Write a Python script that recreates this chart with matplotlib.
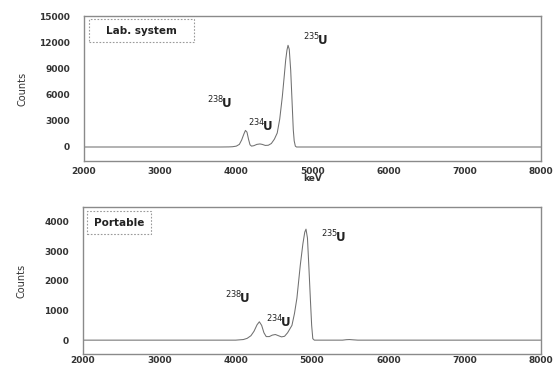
import matplotlib
matplotlib.use('Agg')
import matplotlib.pyplot as plt
from matplotlib.patches import Rectangle

# Lab. system spectrum (keV, counts)
lab_kev = [2000, 3800, 3900, 3950, 4000, 4040, 4070, 4100, 4120, 4140, 4160, 4180, 4200,
           4230, 4270, 4310, 4340, 4380, 4420, 4460, 4500, 4537, 4570, 4604, 4630, 4648,
           4665, 4679, 4695, 4714, 4730, 4748, 4760, 4775, 4790, 8000]
lab_cnt = [0, 0, 10, 30, 100, 300, 800, 1500, 1900, 1700, 900, 250, 100,
           150, 300, 350, 300, 180, 200, 400, 900, 1600, 3200, 5770, 8200, 9950,
           11100, 11650, 11200, 8800, 5600, 1970, 700, 100, 0, 0]

# Portable spectrum (keV, counts)
port_kev = [2000, 4000, 4100, 4150, 4200, 4240, 4280, 4310, 4340, 4370, 4400, 4440,
            4480, 4520, 4560, 4600, 4640, 4680, 4737, 4770, 4802, 4846, 4880, 4905,
            4921, 4940, 4960, 4978, 4995, 5010, 5030, 5400, 5450, 5490, 5540, 5600, 8000]
port_cnt = [0, 0, 20, 60, 150, 300, 520, 620, 500, 250, 120, 120,
            170, 190, 150, 110, 130, 250, 500, 900, 1420, 2530, 3250, 3650,
            3750, 3450, 2400, 1400, 500, 50, 0, 0, 15, 20, 10, 0, 0]

xticks = [2000, 3000, 4000, 5000, 6000, 7000, 8000]
lab_yticks = [0, 3000, 6000, 9000, 12000, 15000]
port_yticks = [0, 1000, 2000, 3000, 4000]

lab_labels = [(3779, 5050, '238'), (4312, 2350, '234'), (5043, 12240, '235')]
port_labels = [(4025, 1410, '238'), (4563, 600, '234'), (5280, 3490, '235')]

fig = plt.figure(figsize=(5.58, 3.65), dpi=100)
ax1 = fig.add_axes([0.1505, 0.559, 0.819, 0.397])
ax2 = fig.add_axes([0.1487, 0.030, 0.821, 0.403])

tick_font = dict(family='DejaVu Sans', weight='bold', size=6.5)

def style(ax, yticks, ylim, xpad):
    ax.set_xlim(2000, 8000)
    ax.set_ylim(*ylim)
    ax.set_xticks(xticks)
    ax.set_yticks(yticks)
    ax.set_xticklabels([str(v) for v in xticks], **tick_font, color='#333333')
    ax.set_yticklabels([str(v) for v in yticks], **tick_font, color='#333333')
    ax.tick_params(length=0)
    ax.tick_params(axis='y', pad=10)
    ax.tick_params(axis='x', pad=xpad)
    for s in ax.spines.values():
        s.set_color('#8a8a8a')
        s.set_linewidth(1.0)
    ax.set_ylabel('Counts', family=['Liberation Sans Narrow', 'DejaVu Sans'],
                  size=7, color='#333333')
    ax.yaxis.set_label_coords(-0.123, 0.5)

ax1.plot(lab_kev, lab_cnt, color='#707070', lw=0.75)
style(ax1, lab_yticks, (-1600, 15000), 4)
ax1.set_xlabel('keV', **tick_font, color='#333333', labelpad=-1)

ax2.plot(port_kev, port_cnt, color='#707070', lw=0.75)
style(ax2, port_yticks, (-470, 4500), 1.5)

for ax, labels in [(ax1, lab_labels), (ax2, port_labels)]:
    for x, y, iso in labels:
        ax.text(x, y, r'$^{%s}\!\mathbf{U}$' % iso, ha='center', va='center',
                size=8.5, color='#222222')

ax1.add_patch(Rectangle((0.011, 0.821), 0.23, 0.158, transform=ax1.transAxes,
                        fill=False, ec='#9a9a9a', lw=0.8, ls=(0, (1.5, 1.5))))
ax1.text(0.126, 0.90, 'Lab. system', transform=ax1.transAxes, ha='center',
         va='center', family='DejaVu Sans', weight='bold', size=7.5, color='#222222')

ax2.add_patch(Rectangle((0.009, 0.816), 0.139, 0.157, transform=ax2.transAxes,
                        fill=False, ec='#9a9a9a', lw=0.8, ls=(0, (1.5, 1.5))))
ax2.text(0.0785, 0.894, 'Portable', transform=ax2.transAxes, ha='center',
         va='center', family='DejaVu Sans', weight='bold', size=7.5, color='#222222')

fig.savefig('out.png', dpi=100)
